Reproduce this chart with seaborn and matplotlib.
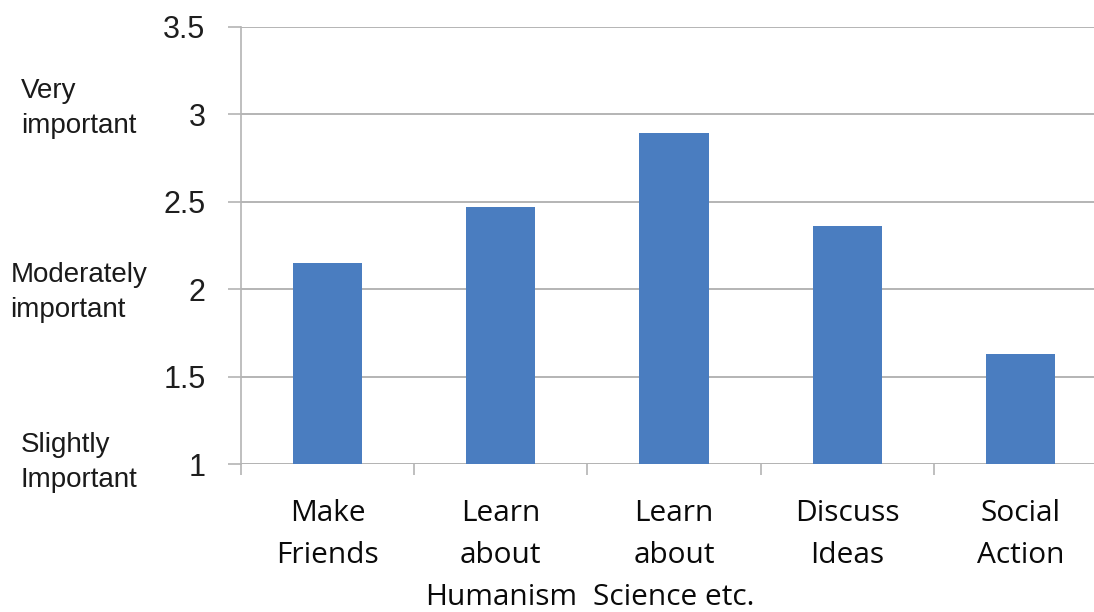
import matplotlib
matplotlib.use("Agg")
import matplotlib.pyplot as plt
import matplotlib.transforms as mtransforms
import seaborn as sns
import pandas as pd

categories = ["Make\nFriends", "Learn\nabout\nHumanism", "Learn\nabout\nScience etc.", "Discuss\nIdeas", "Social\nAction"]
values = [2.15, 2.47, 2.89, 2.36, 1.63]
y_ticks = [1, 1.5, 2, 2.5, 3, 3.5]
y_tick_labels = ["1", "1.5", "2", "2.5", "3", "3.5"]
side_labels = ["Very\nimportant", "Moderately\nimportant", "Slightly\nImportant"]
side_label_values = [3.03, 1.98, 1.01]

sns.set_theme(style="white")
plt.rcParams['font.family'] = ['Open Sans', 'DejaVu Sans']

df = pd.DataFrame({"category": categories, "value": values})

fig = plt.figure(figsize=(10.94, 6.12), dpi=100)
ax = fig.add_axes([241 / 1094, 147.7 / 612, 866 / 1094, 437.8 / 612])

sns.barplot(data=df, x="category", y="value", color="#4a7dc0", saturation=1,
            width=0.4, linewidth=0, ax=ax)

ax.set_ylim(1, 3.5)
ax.set_xlim(-0.5, len(categories) - 0.5)
ax.set_yticks(y_ticks)
ax.set_yticklabels(y_tick_labels, fontfamily="Liberation Sans", fontsize=22, color="#1e1e1e")
ax.yaxis.grid(True, color="#b4b4b4", linewidth=1.4)
ax.set_axisbelow(True)
ax.set_xlabel("")
ax.set_ylabel("")

for s in ["top", "right", "bottom"]:
    ax.spines[s].set_visible(False)
ax.spines["left"].set_color("#b4b4b4")
ax.spines["left"].set_linewidth(1.2)
ax.axhline(1, color="#b4b4b4", linewidth=1.4, zorder=0.5)

ax.tick_params(axis="y", which="major", length=9.5, width=1.2, color="#b4b4b4",
               left=True, pad=16)
ax.set_xticks(range(len(categories)))
ax.set_xticklabels(categories, fontsize=21.5, color="#0a0a0a", linespacing=1.58)
ax.set_xticks([i - 0.5 for i in range(len(categories) + 1)], minor=True)
ax.tick_params(axis="x", which="major", length=0, pad=25)
ax.tick_params(axis="x", which="minor", length=8, width=1.2, color="#b4b4b4", bottom=True)

trans = mtransforms.blended_transform_factory(fig.transFigure, ax.transData)
for lab, v in zip(side_labels, side_label_values):
    ax.text(79 / 1094, v, lab, transform=trans, ha="center", va="center",
            multialignment="left",
            fontfamily="Liberation Sans", fontsize=20, color="#1a1a1a",
            linespacing=1.45, clip_on=False)

fig.savefig("out.png", dpi=100)
